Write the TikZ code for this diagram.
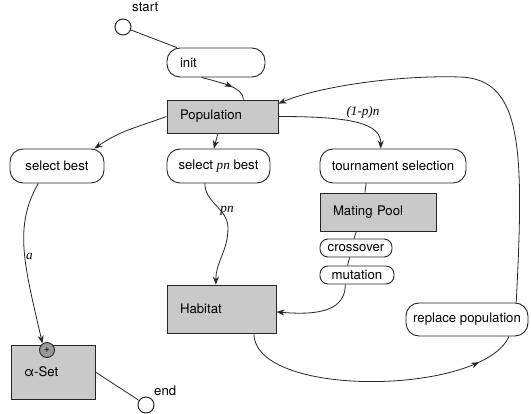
\documentclass[tikz,border=0pt]{standalone}
\usepackage{fontspec}
\setmainfont{TeX Gyre Heros}
\newfontfamily\labelfont{Liberation Serif}
\usetikzlibrary{arrows.meta,decorations.markings}

\tikzset{midtip/.style={flow, postaction={decorate},
    decoration={markings, mark=at position #1 with {\arrow{Stealth[length=8pt,width=6pt]}}}}}

\begin{document}
\begin{tikzpicture}[x=1pt,y=1pt,font=\fontsize{13.2}{15}\selectfont]
            \tikzstyle{every node}+=[inner sep=0pt]
            \tikzstyle{pill}=[draw=black!85, line width=0.9pt, rounded corners=13pt, fill=white, minimum height=34pt]
            \tikzstyle{smallpill}=[pill, rounded corners=8pt, minimum height=18pt]
            \tikzstyle{pool}=[draw=black!85, line width=0.9pt, fill=black!21, align=left, inner xsep=13pt]
            \tikzstyle{terminal}=[draw=black!85, line width=1pt, circle, fill=white, minimum size=16pt]
            \tikzstyle{flow}=[draw=black!85, line width=0.8pt]
            \tikzstyle{tip}=[flow, -{Stealth[length=8pt,width=6pt]}]
            \tikzstyle{lbl}=[font=\labelfont\itshape\fontsize{13.2}{15}\selectfont]
            \useasboundingbox (0,0) rectangle (531,-414);
            % states
            \node [terminal, label={[anchor=south west, xshift=3pt, yshift=9pt]north east:start}] (start) at (123,-27) {};
            \node [pill, text width=72pt, align=left, inner xsep=13pt, minimum height=29pt] (init) at (216,-62.5) {init};
            \node [pool, text width=85pt, minimum height=33pt] (pop) at (222.5,-116.5) {Population};
            \node [pill, minimum width=94pt] (selbest) at (57,-166) {select best};
            \node [pill, minimum width=103pt] (selpn) at (218.5,-166) {select {\labelfont\itshape pn} best};
            \node [pill, minimum width=146pt] (tourn) at (393,-166) {tournament selection};
            \node [pool, text width=90pt, minimum height=38pt] (pool) at (378,-212) {Mating Pool};
            \node [smallpill, minimum width=72pt] (cross) at (356,-248) {crossover};
            \node [smallpill, minimum width=74pt] (mut) at (357,-275) {mutation};
            \node [pool, text width=83pt, minimum height=48pt] (habitat) at (221.5,-309) {Habitat};
            \node [pool, text width=58pt, minimum height=54pt] (alphaset) at (53,-372) {α-Set};
            \node [draw=black!85, line width=0.9pt, circle, fill=black!40, minimum size=15pt, font=\fontsize{10}{10}\selectfont] (plus) at (47,-350) {+};
            \node [terminal, label={[anchor=south west, xshift=2pt, yshift=3pt]north east:end}] (stop) at (146,-405) {};
            \node [pill, minimum width=122pt, minimum height=33pt] (replace) at (467,-319.5) {replace population};
            % edge labels
            \node [lbl] (lblfrac) at (363,-112) {(1-p)n};
            \node [lbl] (lbla) at (29.5,-256) {a};
            \node [lbl] (lblpn) at (227,-211) {pn};
            % transitions
            \draw [flow] (start) -- (init);
            \draw [midtip=0.65] (init.226) .. controls +(-15:22) and +(90:12) .. (pop.39);
            \draw [tip] (pop.west) to[out=200, in=35] (selbest.25);
            \draw [tip] (pop.255) -- (selpn.105);
            \draw [tip] (pop.east) .. controls +(0:75) and +(90:25) .. (tourn.125);
            \draw [tip] (selbest.223) .. controls +(240:50) and +(103:80) .. (plus.125);
            \draw [tip] (selpn.232) to[out=-90, in=90] (228,-228) to[out=-90, in=90] (habitat.103);
            \draw [flow] (tourn.213) -- (pool.124);
            \draw [flow] (pool.222) -- (cross.102);
            \draw [flow] (cross.236) -- (mut.135);
            \draw [tip] (mut.219) .. controls +(-90:25) and +(-5:45) .. (habitat.-3);
            \draw [midtip=0.86] (habitat.-37) .. controls +(-90:65) and +(-114:65) .. (replace.-22);
            \draw [tip] (replace.19) .. controls (524,-150) and (523,-79) .. (460,-77) .. controls (400,-75) and (320,-86) .. (pop.13);
            \draw [flow] (alphaset.east) -- (stop);
\end{tikzpicture}
\end{document}
